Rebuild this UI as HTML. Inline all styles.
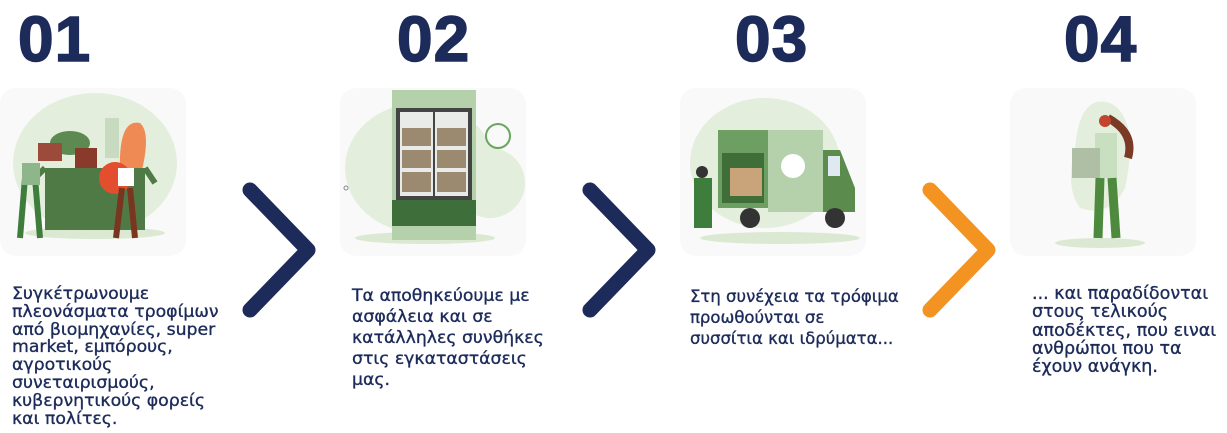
<!DOCTYPE html>
<html><head><meta charset="utf-8"><style>
*{margin:0;padding:0;box-sizing:border-box}
body{width:1227px;height:433px;background:#fff;position:relative;overflow:hidden;font-family:"DejaVu Sans","Liberation Sans",sans-serif;color:#1c2b5a}
.num{position:absolute;top:2px;font-family:"Liberation Sans",sans-serif;font-size:64px;font-weight:bold;color:#1c2b5a;letter-spacing:1px;-webkit-text-stroke:1.5px #1c2b5a}
.p{position:absolute;white-space:nowrap;-webkit-text-stroke:0.35px #1c2b5a}
.panel{position:absolute;top:88px;width:186px;height:168px;border-radius:16px;background:#f8f9f8}
svg{position:absolute}
</style></head><body>
<div class="num" style="left:18px">01</div>
<div class="num" style="left:397px">02</div>
<div class="num" style="left:735px">03</div>
<div class="num" style="left:1064px">04</div>

<div class="panel" style="left:0"></div>
<div class="panel" style="left:340px"></div>
<div class="panel" style="left:680px"></div>
<div class="panel" style="left:1010px"></div>

<!-- panel 1 -->
<svg style="left:0;top:88px" width="186" height="168">
<ellipse cx="95" cy="75" rx="82" ry="70" fill="#e3efdc"/>
<ellipse cx="95" cy="145" rx="70" ry="6" fill="#dbe9d3"/>
<rect x="105" y="30" width="14" height="40" fill="#c8dbc0"/>
<ellipse cx="70" cy="55" rx="20" ry="12" fill="#5c8a50"/>
<path d="M120 85 Q118 30 140 35 Q152 45 140 90 Z" fill="#ef8a55"/>
<rect x="45" y="80" width="100" height="62" fill="#4f7a45"/>
<path d="M45 80 L30 95 M145 80 L155 95" stroke="#4f7a45" stroke-width="6"/>
<rect x="38" y="55" width="24" height="18" fill="#9c4a3a"/>
<rect x="75" y="60" width="22" height="20" fill="#8a3a2a"/>
<circle cx="115" cy="90" r="16" fill="#e24e2e"/>
<path d="M25 90 L20 150 M35 90 L40 150" stroke="#3f7d3c" stroke-width="6"/>
<rect x="22" y="75" width="18" height="22" fill="#8db68a"/>
<rect x="118" y="80" width="16" height="18" fill="#fff"/>
<path d="M122 100 L116 150 M130 100 L135 150" stroke="#7a3520" stroke-width="6"/>
</svg>

<!-- panel 2 -->
<svg style="left:340px;top:88px" width="186" height="168">
<ellipse cx="80" cy="80" rx="75" ry="65" fill="#e3efdc"/>
<ellipse cx="150" cy="95" rx="35" ry="35" fill="#e3efdc"/>
<ellipse cx="85" cy="150" rx="70" ry="6" fill="#dbe9d3"/>
<rect x="52" y="2" width="84" height="150" fill="#b5d1ac"/>
<rect x="56" y="20" width="76" height="92" fill="#444"/>
<rect x="60" y="24" width="33" height="84" fill="#e8ebe8"/>
<rect x="95" y="24" width="33" height="84" fill="#e8ebe8"/>
<g fill="#9c8a70"><rect x="62" y="40" width="29" height="18"/><rect x="97" y="40" width="29" height="18"/><rect x="62" y="62" width="29" height="18"/><rect x="97" y="62" width="29" height="18"/><rect x="62" y="84" width="29" height="20"/><rect x="97" y="84" width="29" height="20"/></g>
<rect x="52" y="112" width="84" height="26" fill="#3e6e3a"/>
<circle cx="158" cy="48" r="12" fill="none" stroke="#6aa660" stroke-width="2"/>
<circle cx="6" cy="100" r="2" fill="none" stroke="#888"/>
</svg>

<!-- panel 3 -->
<svg style="left:680px;top:88px" width="186" height="168">
<ellipse cx="85" cy="75" rx="75" ry="65" fill="#e3efdc"/>
<ellipse cx="100" cy="150" rx="80" ry="6" fill="#dbe9d3"/>
<rect x="38" y="42" width="50" height="78" fill="#6e9f62"/>
<rect x="88" y="42" width="55" height="82" fill="#b5d1ac"/>
<circle cx="113" cy="78" r="12" fill="#fff"/>
<path d="M143 62 L160 62 L175 100 L175 124 L143 124 Z" fill="#5b8c4e"/>
<rect x="148" y="68" width="12" height="20" fill="#dfe9f0"/>
<rect x="42" y="65" width="42" height="50" fill="#3f6e38"/>
<rect x="50" y="80" width="32" height="28" fill="#c9a47a"/>
<circle cx="70" cy="130" r="10" fill="#333"/><circle cx="155" cy="130" r="10" fill="#333"/>
<rect x="14" y="90" width="18" height="50" fill="#3f7d3c"/>
<circle cx="22" cy="84" r="6" fill="#333"/>
</svg>

<!-- panel 4 -->
<svg style="left:1010px;top:88px" width="186" height="168">
<path d="M65 60 Q70 5 100 15 Q130 30 115 100 Q100 130 70 120 Q55 100 65 60Z" fill="#e3efdc"/>
<ellipse cx="90" cy="155" rx="45" ry="5" fill="#dbe9d3"/>
<path d="M98 30 Q125 45 118 70" stroke="#7a3a25" stroke-width="8" fill="none"/>
<circle cx="95" cy="33" r="6" fill="#c2452d"/>
<rect x="85" y="45" width="22" height="45" fill="#c8e0c0"/>
<rect x="62" y="60" width="28" height="30" fill="#aebfa5"/>
<path d="M90 90 L88 150 M102 90 L106 150" stroke="#4d8a3e" stroke-width="9"/>
</svg>

<!-- chevrons -->
<svg style="left:240px;top:180px" width="85" height="140"><polyline points="10,10 68,70 10,130" fill="none" stroke="#1c2b5a" stroke-width="15" stroke-linecap="round" stroke-linejoin="round"/></svg>
<svg style="left:580px;top:180px" width="85" height="140"><polyline points="10,10 68,70 10,130" fill="none" stroke="#1c2b5a" stroke-width="15" stroke-linecap="round" stroke-linejoin="round"/></svg>
<svg style="left:920px;top:180px" width="85" height="140"><polyline points="10,10 68,70 10,130" fill="none" stroke="#f39322" stroke-width="15" stroke-linecap="round" stroke-linejoin="round"/></svg>

<div class="p" style="left:12px;top:286px;font-size:17.3px;line-height:17.8px">Συγκέτρωνουμε<br>πλεονάσματα τροφίμων<br>από βιομηχανίες, super<br>market, εμπόρους,<br>αγροτικούς<br>συνεταιρισμούς,<br>κυβερνητικούς φορείς<br>και πολίτες.</div>
<div class="p" style="left:352px;top:286px;font-size:17.3px;line-height:21px">Τα αποθηκεύουμε με<br>ασφάλεια και σε<br>κατάλληλες συνθήκες<br>στις εγκαταστάσεις<br>μας.</div>
<div class="p" style="left:690px;top:286px;font-size:16.5px;line-height:21px">Στη συνέχεια τα τρόφιμα<br>προωθούνται σε<br>συσσίτια και ιδρύματα...</div>
<div class="p" style="left:1032px;top:285px;font-size:17.5px;line-height:18.3px">... και παραδίδονται<br>στους τελικούς<br>αποδέκτες, που ειναι<br>ανθρώποι που τα<br>έχουν ανάγκη.</div>
</body></html>
